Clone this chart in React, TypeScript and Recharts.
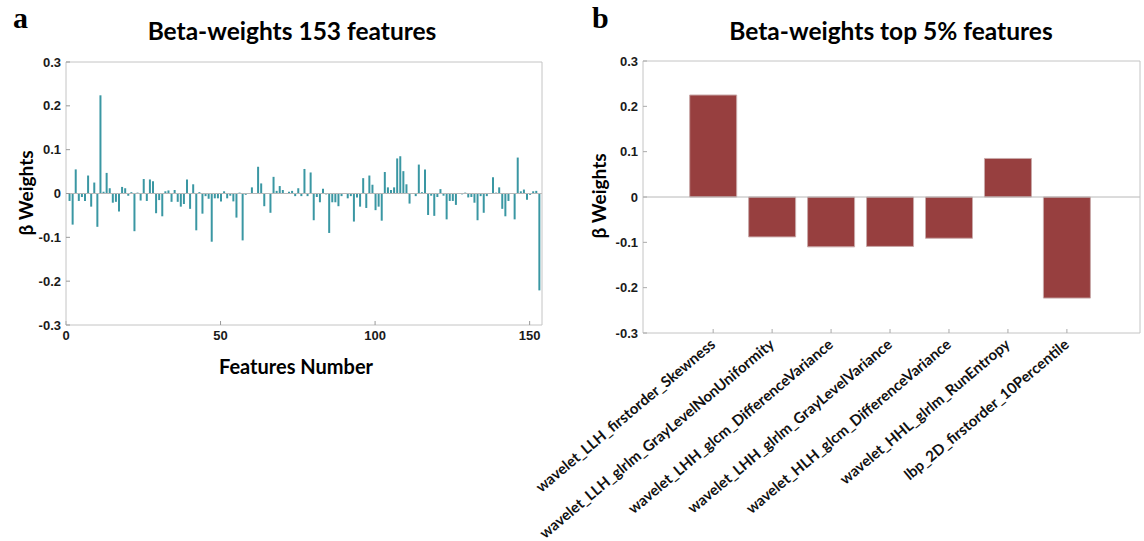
import { BarChart, Bar, XAxis, YAxis, ReferenceLine } from 'recharts';

// beta weight of every feature, index 1..153
const featureWeights = [
  -0.017, -0.071, 0.055, -0.017, -0.008, -0.017, 0.041, -0.03, 0.025, -0.076,
  0.224, 0.004, 0.047, 0.012, -0.021, -0.019, -0.041, 0.015, 0.012, -0.005,
  0.003, -0.086, 0.002, -0.016, 0.033, -0.017, 0.032, 0.028, -0.045, -0.015,
  -0.052, 0.005, 0.007, -0.019, 0.008, -0.019, -0.03, -0.024, 0.032, -0.035,
  0.021, -0.084, 0.003, -0.046, -0.006, -0.012, -0.11, -0.011, -0.011, -0.018,
  0.005, -0.011, -0.005, -0.018, -0.055, 0.002, -0.107, -0.003, 0.001, 0.014,
  0.0, 0.061, 0.023, -0.029, 0.0, -0.044, 0.038, 0.006, 0.017, 0.008,
  0.001, 0.004, 0.006, -0.006, 0.012, -0.006, 0.056, -0.006, 0.048, -0.061,
  -0.008, -0.02, 0.011, -0.002, -0.09, -0.02, -0.02, -0.029, -0.006, 0.0,
  -0.011, -0.006, -0.064, -0.009, -0.03, 0.035, -0.033, 0.041, 0.02, -0.038,
  -0.03, -0.062, 0.049, 0.014, 0.008, 0.014, 0.08, 0.085, 0.051, 0.021,
  -0.023, 0.0, -0.006, 0.066, 0.003, 0.055, -0.049, -0.005, -0.051, -0.008,
  0.01, -0.005, -0.059, -0.017, -0.017, -0.026, 0.001, -0.002, 0.002, -0.009,
  -0.008, -0.021, -0.061, -0.006, -0.044, -0.006, 0.0, 0.037, 0.002, 0.014,
  -0.035, -0.052, -0.017, 0.0, -0.059, 0.082, 0.005, 0.009, -0.014, -0.003,
  0.005, 0.006, -0.221,
];
const featureTicks = [0, 50, 100, 150];
const weightTicks = [-0.3, -0.2, -0.1, 0, 0.1, 0.2, 0.3];

const topFeatures = [
  'wavelet_LLH_firstorder_Skewness',
  'wavelet_LLH_glrlm_GrayLevelNonUniformity',
  'wavelet_LHH_glcm_DifferenceVariance',
  'wavelet_LHH_glrlm_GrayLevelVariance',
  'wavelet_HLH_glcm_DifferenceVariance',
  'wavelet_HHL_glrlm_RunEntropy',
  'lbp_2D_firstorder_10Percentile',
];
const topWeights = [0.225, -0.088, -0.11, -0.109, -0.091, 0.085, -0.223];
const topTicks = [1, 2, 3, 4, 5, 6, 7];

const featureData = featureWeights.map((w, i) => ({ feature: i + 1, weight: w }));
const topData = topWeights.map((w, i) => ({ pos: i + 1, weight: w }));

const axisFont = 'Liberation Sans, Arial, sans-serif';
const labelFont = 'Lato, "Open Sans", sans-serif';
const boxColor = '#c4c4c4';
const tickStyle = { fill: '#1a1a1a', fontSize: 13, fontWeight: 'bold', fontFamily: axisFont };

function FeatureTick(props: any) {
  const { x, y, payload } = props;
  return (
    <g transform={`translate(${x - 2},${y + 5})`}>
      <text
        textAnchor="end"
        transform="rotate(-40)"
        dy={8}
        fontFamily={labelFont}
        fontWeight="bold"
        fontSize={15}
        fill="#111"
      >
        {topFeatures[payload.value - 1]}
      </text>
    </g>
  );
}

function Text({ children, style }: { children: any; style: any }) {
  return (
    <div style={{ position: 'absolute', whiteSpace: 'nowrap', color: '#000', ...style }}>{children}</div>
  );
}

export default function App() {
  return (
    <div style={{ position: 'absolute', left: 0, top: 0, width: 1144, height: 541, background: '#fff', overflow: 'hidden' }}>
      <div style={{ position: 'absolute', left: 0, top: 0 }}>
        <BarChart width={560} height={400} data={featureData} margin={{ top: 61, right: 17, bottom: 45, left: 0 }}>
          <XAxis
            dataKey="feature"
            type="number"
            domain={[0, 154]}
            ticks={featureTicks}
            height={30}
            tickSize={-4}
            tickMargin={10}
            axisLine={{ stroke: boxColor }}
            tickLine={{ stroke: '#999' }}
            tick={tickStyle}
          />
          <XAxis
            xAxisId="top"
            orientation="top"
            type="number"
            domain={[0, 154]}
            ticks={featureTicks}
            height={1}
            tickSize={-4}
            tick={false}
            axisLine={{ stroke: boxColor }}
            tickLine={{ stroke: '#999' }}
          />
          <YAxis
            type="number"
            domain={[-0.3, 0.3]}
            ticks={weightTicks}
            width={66}
            tickSize={-4}
            tickMargin={9}
            tickFormatter={(v: number) => String(v)}
            axisLine={{ stroke: boxColor }}
            tickLine={{ stroke: '#999' }}
            tick={tickStyle}
          />
          <YAxis
            yAxisId="right"
            orientation="right"
            type="number"
            domain={[-0.3, 0.3]}
            ticks={weightTicks}
            width={1}
            tickSize={-4}
            tick={false}
            axisLine={{ stroke: boxColor }}
            tickLine={{ stroke: '#999' }}
          />
          <ReferenceLine y={0} stroke="#b8b8b8" />
          <Bar dataKey="weight" fill="#3a97a3" barSize={2} isAnimationActive={false} />
        </BarChart>
      </div>

      <div style={{ position: 'absolute', left: 480, top: 0 }}>
        <BarChart width={664} height={541} data={topData} margin={{ top: 60, right: 3, bottom: 8, left: 100 }}>
          <XAxis
            dataKey="pos"
            type="number"
            domain={[-0.19, 8.24]}
            ticks={topTicks}
            height={200}
            tickSize={-4}
            tickMargin={6}
            axisLine={{ stroke: boxColor }}
            tickLine={{ stroke: '#aaa' }}
            tick={<FeatureTick />}
          />
          <XAxis
            xAxisId="top"
            orientation="top"
            type="number"
            domain={[-0.19, 8.24]}
            ticks={topTicks}
            height={1}
            tickSize={-4}
            tick={false}
            axisLine={{ stroke: boxColor }}
            tickLine={{ stroke: '#aaa' }}
          />
          <YAxis
            type="number"
            domain={[-0.3, 0.3]}
            ticks={weightTicks}
            width={63}
            tickSize={-4}
            tickMargin={9}
            tickFormatter={(v: number) => String(v)}
            axisLine={{ stroke: boxColor }}
            tickLine={{ stroke: '#aaa' }}
            tick={tickStyle}
          />
          <YAxis
            yAxisId="right"
            orientation="right"
            type="number"
            domain={[-0.3, 0.3]}
            ticks={weightTicks}
            width={1}
            tickSize={-4}
            tick={false}
            axisLine={{ stroke: boxColor }}
            tickLine={{ stroke: '#aaa' }}
          />
          <ReferenceLine y={0} stroke="#b8b8b8" />
          <Bar dataKey="weight" fill="#973f3f" stroke="#c9a9a9" strokeWidth={1} barSize={47} isAnimationActive={false} />
        </BarChart>
      </div>

      <Text style={{ left: 13, top: 3, fontFamily: 'Liberation Serif, serif', fontWeight: 'bold', fontSize: 30, lineHeight: '30px' }}>a</Text>
      <Text style={{ left: 592, top: 3, fontFamily: 'Liberation Serif, serif', fontWeight: 'bold', fontSize: 30, lineHeight: '30px' }}>b</Text>
      <Text style={{ left: 292, top: 30, transform: 'translate(-50%, -50%)', fontFamily: labelFont, fontWeight: 'bold', fontSize: 24.5 }}>
        Beta-weights 153 features
      </Text>
      <Text style={{ left: 891, top: 30, transform: 'translate(-50%, -50%)', fontFamily: labelFont, fontWeight: 'bold', fontSize: 24.5 }}>
        Beta-weights top 5% features
      </Text>
      <Text style={{ left: 25, top: 193, transform: 'translate(-50%, -50%) rotate(-90deg)', fontFamily: labelFont, fontWeight: 'bold', fontSize: 19 }}>
        β Weights
      </Text>
      <Text style={{ left: 598, top: 196, transform: 'translate(-50%, -50%) rotate(-90deg)', fontFamily: labelFont, fontWeight: 'bold', fontSize: 19 }}>
        β Weights
      </Text>
      <Text style={{ left: 296, top: 366, transform: 'translate(-50%, -50%)', fontFamily: labelFont, fontWeight: 'bold', fontSize: 20 }}>
        Features Number
      </Text>
    </div>
  );
}
